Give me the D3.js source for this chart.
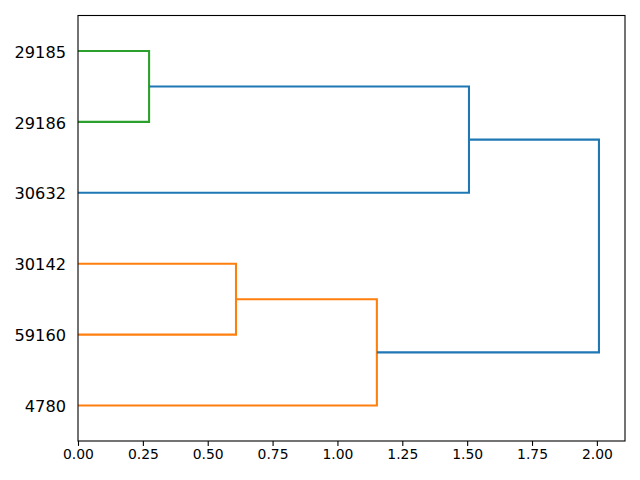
<!DOCTYPE html>
<html><head><meta charset="utf-8">
<script src="https://cdn.jsdelivr.net/npm/d3@7"></script>
<style>body{margin:0;background:#fff}</style>
</head><body>
<svg id="c" width="640" height="480"></svg>
<script>
// Leaves, bottom to top
const leaves = ["4780", "59160", "30142", "30632", "29186", "29185"];
// Merges: child A, child B (ids; leaves 0..5, new nodes from 6), distance
const mergeA = [4, 3, 1, 0, 9];
const mergeB = [5, 6, 2, 8, 7];
const mergeDist = [0.274, 1.507, 0.609, 1.152, 2.008];
const mergeColor = ["#2ca02c", "#1f77b4", "#ff7f0e", "#ff7f0e", "#1f77b4"];
const xTicks = [0, 0.25, 0.5, 0.75, 1.0, 1.25, 1.5, 1.75, 2.0];

const svg = d3.select("#c");
const L = 78, R = 625, T = 15.5, B = 441;
const x = d3.scaleLinear().domain([0, 2.008 * 1.05]).range([L, R]);
const y = d3.scaleLinear().domain([0, leaves.length * 10]).range([B, T]);

const nodeY = leaves.map((d, i) => 5 + 10 * i);
const nodeD = leaves.map(() => 0);
const g = svg.append("g");
mergeA.forEach((a, k) => {
  const b = mergeB[k], d = mergeDist[k];
  const pts = [[nodeD[a], nodeY[a]], [d, nodeY[a]], [d, nodeY[b]], [nodeD[b], nodeY[b]]];
  g.append("path")
    .attr("d", d3.line().x(p => x(p[0])).y(p => y(p[1]))(pts))
    .attr("fill", "none").attr("stroke", mergeColor[k]).attr("stroke-width", 2.08);
  nodeY.push((nodeY[a] + nodeY[b]) / 2);
  nodeD.push(d);
});

// frame
svg.append("rect").attr("x", L).attr("y", T).attr("width", R - L).attr("height", B - T)
  .attr("fill", "none").attr("stroke", "#000").attr("stroke-width", 1.1);

// x axis
const xa = svg.append("g").attr("transform", `translate(0,${B})`)
  .call(d3.axisBottom(x).tickValues(xTicks).tickFormat(d3.format(".2f")).tickSize(4.9).tickPadding(3.5));
xa.select(".domain").remove();
xa.selectAll("line").attr("stroke", "#000").attr("stroke-width", 1.1);
xa.selectAll("text").attr("font-family", "DejaVu Sans").attr("font-size", "13.9px").attr("fill", "#000");

// y labels
svg.append("g").selectAll("text").data(leaves).join("text")
  .attr("x", L - 12).attr("y", (d, i) => y(nodeY[i]) + 1.2)
  .attr("text-anchor", "end").attr("dominant-baseline", "central")
  .attr("font-family", "DejaVu Sans").attr("font-size", "16.2px").attr("fill", "#000")
  .text(d => d);
</script>
</body></html>
